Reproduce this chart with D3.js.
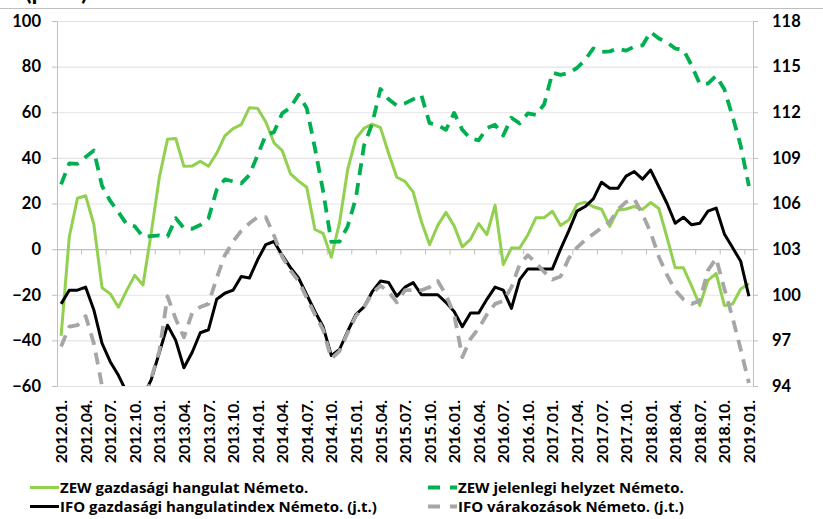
<!DOCTYPE html>
<html>
<head>
<meta charset="utf-8">
<script src="https://cdn.jsdelivr.net/npm/d3@7"></script>
<style>
  body { margin: 0; background: #fff; }
  svg { display: block; font-family: Lato, 'Open Sans', sans-serif; font-weight: bold; }
</style>
</head>
<body>
<svg id="chart"></svg>
<script>
// categories: monthly, 2012.01. - 2019.01.
const months = [];
for (let y = 2012; y <= 2019; y++) {
    for (let m = 1; m <= 12; m++) {
        if (y === 2019 && m > 1) break;
        months.push(`${y}.${String(m).padStart(2, '0')}.`);
    }
}
const tickLabels = months.filter((d, i) => i % 3 === 0);
const leftTicks = [-60, -40, -20, 0, 20, 40, 60, 80, 100];
const rightTicks = [94, 97, 100, 103, 106, 109, 112, 115, 118];

// ZEW economic sentiment (left axis)
const zewSentiment = [
    -38, 5.4, 22.3, 23.4, 10.8, -16.9, -19.6, -25.5, -18.2, -11.5, -15.7, 6.9,
    31.5, 48.2, 48.5, 36.3, 36.4, 38.5, 36.3, 42.0, 49.6, 52.8, 54.6, 62.0,
    61.7, 55.7, 46.6, 43.2, 33.1, 29.8, 27.1, 8.6, 6.9, -3.6, 11.5, 34.9,
    48.4, 53.0, 54.8, 53.3, 41.9, 31.5, 29.7, 25.0, 12.1, 1.9, 10.4, 16.1,
    10.2, 1.0, 4.3, 11.2, 6.4, 19.2, -6.8, 0.5, 0.5, 6.2, 13.8, 13.8,
    16.6, 10.4, 12.8, 19.5, 20.6, 18.6, 17.5, 10.0, 17.0, 17.6, 18.7, 17.4,
    20.4, 17.8, 5.1, -8.2, -8.2, -16.1, -24.7, -13.7, -10.6, -24.7, -24.1, -17.5,
    -15.1
];
// ZEW current situation (left axis)
const zewCurrent = [
    28.4, 37.6, 37.4, 40.4, 43.2, 27.7, 21.1, 16.2, 11.0, 10.0, 5.4, 5.7,
    6.0, 5.5, 13.6, 9.2, 8.9, 10.6, 13.5, 26.0, 30.6, 29.7, 28.8, 32.5,
    41.2, 50.0, 51.3, 59.5, 62.1, 67.7, 61.8, 44.3, 25.4, 3.2, 3.3, 10.0,
    22.4, 45.5, 55.1, 70.2, 65.7, 62.9, 63.9, 65.7, 67.5, 55.2, 54.4, 52.3,
    59.7, 52.3, 48.4, 47.7, 53.1, 54.5, 49.8, 57.6, 55.1, 59.5, 58.8, 63.5,
    77.3, 76.4, 77.3, 79.4, 83.0, 88.0, 86.4, 86.7, 87.9, 87.0, 88.8, 89.3,
    95.2, 92.3, 90.7, 87.9, 87.4, 80.6, 72.4, 72.6, 76.0, 70.1, 58.2, 45.3,
    27.6
];
// IFO business climate (right axis)
const ifoClimate = [
    99.4, 100.3, 100.3, 100.5, 99.0, 96.8, 95.6, 94.7, 93.6, 93.0, 93.3, 94.4,
    96.2, 98.0, 97.0, 95.2, 96.2, 97.5, 97.7, 99.7, 100.1, 100.3, 101.2, 101.1,
    102.3, 103.3, 103.5, 102.6, 101.8, 101.1, 100.0, 98.9, 97.9, 96.0, 96.4, 97.6,
    98.7, 99.2, 100.2, 100.9, 100.8, 99.9, 100.5, 100.8, 100.0, 100.0, 100.0, 99.5,
    98.9, 97.9, 98.8, 98.8, 99.7, 100.5, 100.3, 99.1, 101.0, 101.7, 101.7, 101.7,
    101.7, 103.0, 104.2, 105.5, 105.8, 106.3, 107.4, 107.0, 107.0, 107.8, 108.1, 107.6,
    108.2, 107.1, 106.0, 104.7, 105.1, 104.6, 104.7, 105.5, 105.7, 104.0, 103.1, 102.2,
    99.9
];
// IFO expectations (right axis)
const ifoExpect = [
    96.6, 97.9, 98.0, 98.6, 96.8, 94.0, 93.0, 92.5, 92.3, 92.4, 92.6, 94.5,
    96.3, 99.9, 98.4, 97.2, 98.8, 99.2, 99.4, 101.1, 102.6, 103.5, 104.2, 104.7,
    105.1, 105.1, 103.9, 102.5, 101.6, 100.9, 99.8, 98.7, 97.7, 95.8, 96.3, 97.5,
    98.6, 99.2, 100.1, 100.6, 100.2, 99.5, 100.3, 100.3, 100.3, 100.5, 100.9, 100.0,
    98.7, 95.9, 97.1, 97.8, 98.7, 99.4, 99.6, 100.5, 102.0, 102.6, 102.1, 101.5,
    101.0, 101.2, 102.4, 103.1, 103.6, 104.0, 104.4, 104.8, 105.6, 106.1, 106.3, 105.3,
    104.1, 102.5, 101.3, 100.3, 99.7, 99.4, 99.6, 101.6, 102.4, 100.4, 98.5, 96.4,
    94.2
];

const seriesNames = [
    'ZEW gazdasági hangulat Németo.',
    'ZEW jelenlegi helyzet Németo.',
    'IFO gazdasági hangulatindex Németo. (j.t.)',
    'IFO várakozások Németo. (j.t.)'
];

const width = 823, height = 519;
const plot = {left: 57, right: 753, top: 21, bottom: 386};

const svg = d3.select('#chart')
    .attr('width', width)
    .attr('height', height);

// frame line and the unit label at the top (cut off by the page edge, as in the source)
svg.append('line')
    .attr('x1', 0).attr('x2', width)
    .attr('y1', 8.5).attr('y2', 8.5)
    .attr('stroke', '#bfbfbf');
svg.append('text')
    .attr('x', 25).attr('y', 0)
    .style('font-size', '24px')
    .text('(pont)');

const x = d3.scaleBand()
    .domain(months)
    .range([plot.left, plot.right]);
const bw = x.bandwidth();

const yLeft = d3.scaleLinear().domain([-60, 100]).range([plot.bottom, plot.top]);
const yRight = d3.scaleLinear().domain([94, 118]).range([plot.bottom, plot.top]);

// gridlines
svg.append('g').selectAll('line')
    .data(leftTicks.filter(d => d !== 0))
    .join('line')
    .attr('x1', plot.left).attr('x2', plot.right)
    .attr('y1', d => yLeft(d) + 0.5).attr('y2', d => yLeft(d) + 0.5)
    .attr('stroke', '#e3e3e3')
    .attr('stroke-width', 1.2);

// left axis
const leftAxis = svg.append('g')
    .attr('transform', `translate(${plot.left},0)`)
    .call(d3.axisLeft(yLeft).tickValues(leftTicks).tickSize(5).tickSizeOuter(0).tickPadding(11));
// right axis
const rightAxis = svg.append('g')
    .attr('transform', `translate(${plot.right},0)`)
    .call(d3.axisRight(yRight).tickValues(rightTicks).tickSize(5).tickSizeOuter(0).tickPadding(14));

[leftAxis, rightAxis].forEach(g => {
    g.select('.domain').attr('stroke', '#bfbfbf');
    g.selectAll('.tick line').attr('stroke', '#bfbfbf');
    g.selectAll('.tick text')
        .attr('fill', '#000')
        .style('font-size', '16.5px')
        .style('font-family', "Lato, 'Open Sans', sans-serif")
        .style('font-weight', 'bold');
});

// category axis at 0
const y0 = yLeft(0) + 0.5;
svg.append('line')
    .attr('x1', plot.left).attr('x2', plot.right)
    .attr('y1', y0).attr('y2', y0)
    .attr('stroke', '#bfbfbf')
    .attr('stroke-width', 1.2);
svg.append('g').selectAll('line')
    .data(months.filter((d, i) => i % 3 === 0 && i > 0))
    .join('line')
    .attr('x1', d => x(d)).attr('x2', d => x(d))
    .attr('y1', y0).attr('y2', y0 + 5)
    .attr('stroke', '#bfbfbf');

svg.append('g').selectAll('text')
    .data(tickLabels)
    .join('text')
    .attr('transform', d => `translate(${x(d) + bw / 2 + 0.5},400) rotate(-90)`)
    .attr('text-anchor', 'end')
    .attr('dy', '0.35em')
    .style('font-size', '16px')
    .text(d => d);

// lines
svg.append('clipPath').attr('id', 'plotclip')
    .append('rect')
    .attr('x', plot.left).attr('y', plot.top)
    .attr('width', plot.right - plot.left).attr('height', plot.bottom - plot.top);

const lineLeft = d3.line().x((d, i) => x(months[i]) + bw / 2).y(d => yLeft(d));
const lineRight = d3.line().x((d, i) => x(months[i]) + bw / 2).y(d => yRight(d));

const styles = [
    {color: '#92d050', width: 3, dash: null},
    {color: '#00b050', width: 3.8, dash: '12,8'},
    {color: '#000000', width: 3, dash: null},
    {color: '#a6a6a6', width: 3.8, dash: '12,8'}
];

const lines = svg.append('g').attr('clip-path', 'url(#plotclip)');
[[zewSentiment, lineLeft], [zewCurrent, lineLeft], [ifoClimate, lineRight], [ifoExpect, lineRight]]
    .forEach(([data, gen], k) => {
        lines.append('path')
            .datum(data)
            .attr('d', gen)
            .attr('fill', 'none')
            .attr('stroke', styles[k].color)
            .attr('stroke-width', styles[k].width)
            .attr('stroke-linejoin', 'round')
            .attr('stroke-dasharray', styles[k].dash);
    });

// legend
const legendPos = [
    {x: 30, y: 487.5}, {x: 428, y: 487.5},
    {x: 30, y: 506.5}, {x: 428, y: 506.5}
];
const legend = svg.append('g').selectAll('g')
    .data(seriesNames)
    .join('g')
    .attr('transform', (d, i) => `translate(${legendPos[i].x},${legendPos[i].y})`);
legend.append('line')
    .attr('x1', 0).attr('x2', 29)
    .attr('stroke', (d, i) => styles[i].color)
    .attr('stroke-width', (d, i) => styles[i].width)
    .attr('stroke-dasharray', (d, i) => styles[i].dash ? '12,10' : null);
legend.append('text')
    .attr('x', 30)
    .attr('dy', '0.36em')
    .style('font-family', "'Open Sans', Lato, sans-serif")
    .style('font-size', '15px')
    .text(d => d);
</script>
</body>
</html>
